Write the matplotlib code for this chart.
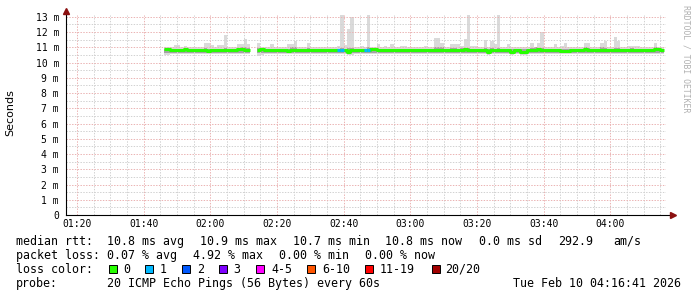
import numpy as np
import matplotlib
matplotlib.use("Agg")
import matplotlib.pyplot as plt
from matplotlib.patches import Rectangle

nan = np.nan

# one sample per minute, first sample 01:46, last 04:15 (minutes after 01:00)
minutes = np.arange(46, 196)

# median rtt in ms
median = [
    10.90, 10.90, 10.80, 10.80, 10.80, 10.80, 10.90, 10.80, 10.80, 10.80,
    10.80, 10.80, 10.80, 10.75, 10.80, 10.80, 10.80, 10.80, 10.80, 10.80,
    10.80, 10.80, 10.90, 10.90, 10.85, 10.80, nan, nan, 10.80, 10.90,
    10.80, 10.80, 10.80, 10.80, 10.80, 10.80, 10.80, 10.75, 10.80, 10.80,
    10.80, 10.80, 10.80, 10.80, 10.80, 10.80, 10.80, 10.80, 10.80, 10.80,
    10.80, 10.80, 10.80, 10.80, 10.80, 10.72, 10.80, 10.80, 10.80, 10.80,
    10.80, 10.80, 10.90, 10.90, 10.80, 10.80, 10.80, 10.80, 10.80, 10.80,
    10.82, 10.82, 10.82, 10.82, 10.82, 10.82, 10.82, 10.82, 10.82, 10.82,
    10.82, 10.82, 10.82, 10.82, 10.82, 10.82, 10.82, 10.82, 10.82, 10.82,
    10.90, 10.80, 10.80, 10.80, 10.80, 10.80, 10.80, 10.72, 10.80, 10.80,
    10.80, 10.80, 10.80, 10.80, 10.72, 10.80, 10.80, 10.72, 10.72, 10.80,
    10.80, 10.80, 10.90, 10.80, 10.80, 10.80, 10.80, 10.80, 10.80, 10.75,
    10.75, 10.75, 10.80, 10.80, 10.80, 10.80, 10.90, 10.80, 10.80, 10.80,
    10.80, 10.80, 10.80, 10.80, 10.80, 10.80, 10.80, 10.80, 10.80, 10.80,
    10.80, 10.80, 10.80, 10.80, 10.80, 10.80, 10.80, 10.90, 10.90, 10.80,
]

# slowest ping of each minute (top of the smoke)
ping_max = [
    11.05, 11.05, 11.05, 11.13, 11.13, 11.05, 11.10, 11.05, 11.05, 11.05,
    11.05, 11.05, 11.28, 11.28, 11.13, 11.05, 11.13, 11.13, 11.82, 11.05,
    11.05, 11.05, 11.20, 11.20, 11.52, 11.20, nan, nan, 11.28, 11.05,
    11.05, 11.05, 11.20, 11.05, 11.05, 11.05, 11.05, 11.20, 11.20, 11.39,
    11.05, 11.05, 11.05, 11.28, 11.05, 11.05, 11.05, 11.05, 11.05, 11.05,
    11.05, 11.05, 11.10, 13.13, 11.13, 12.17, 13.00, 11.05, 11.05, 11.10,
    11.05, 13.13, 11.05, 11.05, 11.20, 11.05, 11.10, 11.05, 11.20, 11.05,
    11.05, 11.10, 11.10, 11.05, 11.05, 11.05, 11.05, 11.05, 11.10, 11.05,
    11.05, 11.60, 11.60, 11.28, 11.05, 11.05, 11.20, 11.20, 11.20, 11.10,
    11.56, 13.13, 11.10, 11.10, 11.05, 11.05, 11.50, 11.05, 11.39, 11.20,
    13.10, 11.05, 11.05, 11.20, 11.05, 11.05, 11.05, 11.05, 11.05, 11.05,
    11.28, 11.05, 11.28, 12.00, 11.05, 11.05, 11.05, 11.20, 11.05, 11.10,
    11.28, 11.05, 11.05, 11.05, 11.05, 11.05, 11.28, 11.28, 11.05, 11.05,
    11.05, 11.28, 11.39, 11.05, 11.05, 11.67, 11.39, 11.05, 11.05, 11.10,
    11.10, 11.10, 11.10, 11.05, 11.05, 11.05, 11.05, 11.28, 11.05, 11.05,
]

# fastest ping of each minute (bottom of the smoke)
ping_min = [
    10.52, 10.52, 10.56, 10.56, 10.56, 10.56, 10.56, 10.56, 10.54, 10.56,
    10.56, 10.56, 10.54, 10.54, 10.56, 10.56, 10.56, 10.56, 10.56, 10.56,
    10.56, 10.56, 10.56, 10.56, 10.56, 10.56, nan, nan, 10.46, 10.52,
    10.56, 10.56, 10.56, 10.56, 10.56, 10.56, 10.54, 10.56, 10.56, 10.56,
    10.56, 10.56, 10.56, 10.56, 10.56, 10.56, 10.56, 10.56, 10.56, 10.56,
    10.56, 10.56, 10.56, 10.56, 10.56, 10.50, 10.50, 10.56, 10.56, 10.56,
    10.56, 10.56, 10.56, 10.56, 10.56, 10.56, 10.56, 10.56, 10.56, 10.56,
    10.56, 10.56, 10.56, 10.56, 10.56, 10.56, 10.56, 10.56, 10.56, 10.56,
    10.56, 10.56, 10.56, 10.56, 10.56, 10.56, 10.56, 10.56, 10.56, 10.56,
    10.56, 10.56, 10.56, 10.56, 10.56, 10.56, 10.56, 10.52, 10.56, 10.56,
    10.56, 10.56, 10.56, 10.56, 10.52, 10.56, 10.56, 10.50, 10.50, 10.56,
    10.56, 10.56, 10.56, 10.56, 10.56, 10.56, 10.56, 10.56, 10.56, 10.54,
    10.54, 10.54, 10.56, 10.56, 10.56, 10.56, 10.56, 10.56, 10.56, 10.56,
    10.56, 10.56, 10.56, 10.56, 10.56, 10.56, 10.56, 10.56, 10.56, 10.56,
    10.56, 10.56, 10.56, 10.56, 10.56, 10.56, 10.56, 10.56, 10.56, 10.56,
]

# darker core of the smoke (middle pings)
core_low = 10.62
core_high = [
    10.92, 10.92, 10.92, 10.92, 10.92, 10.92, 10.95, 10.92, 10.92, 10.92,
    10.92, 10.92, 10.95, 10.92, 10.92, 10.92, 10.92, 10.92, 10.95, 10.92,
    10.92, 10.92, 10.95, 11.02, 11.02, 10.95, nan, nan, 10.95, 10.95,
    10.92, 10.92, 10.92, 10.92, 10.92, 10.92, 10.92, 10.92, 11.02, 11.02,
    10.92, 10.92, 10.92, 10.95, 10.92, 10.92, 10.92, 10.92, 10.92, 10.92,
    10.92, 10.92, 10.92, 10.95, 10.92, 10.95, 10.95, 10.92, 10.92, 10.92,
    10.92, 11.00, 10.95, 10.92, 10.92, 10.92, 10.92, 10.92, 10.92, 10.92,
    10.92, 10.92, 10.92, 10.92, 10.92, 10.92, 10.92, 10.92, 10.92, 10.92,
    10.92, 11.05, 11.05, 11.00, 10.92, 10.92, 10.95, 10.95, 10.92, 10.95,
    10.95, 10.95, 10.92, 10.92, 10.92, 10.92, 10.95, 10.92, 10.95, 10.92,
    10.95, 10.92, 10.92, 10.92, 10.92, 10.92, 10.92, 10.92, 10.92, 10.92,
    10.95, 11.00, 10.95, 10.95, 10.92, 10.92, 10.92, 10.92, 10.92, 10.92,
    10.92, 10.92, 10.92, 10.92, 10.92, 10.92, 11.00, 10.95, 10.92, 10.92,
    10.92, 11.00, 10.95, 10.92, 10.92, 10.95, 10.95, 10.92, 10.92, 10.92,
    10.95, 10.92, 10.92, 10.92, 10.92, 10.92, 10.92, 11.00, 10.95, 10.92,
]

# lost pings out of 20 per minute (only non-zero minutes listed)
loss_minutes = [98, 99, 106, 107]
loss_counts = [1, 1, 1, 1]

loss_labels = ["0", "1", "2", "3", "4-5", "6-10", "11-19", "20/20"]
loss_colors = ["#26ff00", "#00b8ff", "#0059ff", "#7e00ff",
               "#ff00ff", "#ff5500", "#ff0000", "#a10000"]

x_ticks = [20, 40, 60, 80, 100, 120, 140, 160, 180]
x_tick_labels = ["01:20", "01:40", "02:00", "02:20", "02:40",
                 "03:00", "03:20", "03:40", "04:00"]
t_start = 16 + 41 / 60   # 01:16:41
t_end = t_start + 180    # 04:16:41

legend_rows = [
    ["median rtt:", "10.8 ms avg", "10.9 ms max", "10.7 ms min",
     "10.8 ms now", "0.0 ms sd", "292.9", "am/s"],
    ["packet loss:", "0.07 % avg", "4.92 % max", "0.00 % min", "0.00 % now"],
]
probe_text = "20 ICMP Echo Pings (56 Bytes) every 60s"
stamp_text = "Tue Feb 10 04:16:41 2026"

W, H = 697, 297
MONO = "DejaVu Sans Mono"


def stepify(values):
    v = np.asarray(values, dtype=float)
    xs = np.column_stack([minutes, minutes + 1]).ravel()
    return xs, np.repeat(v, 2)


fig = plt.figure(figsize=(W / 100, H / 100), dpi=100)
fig.patch.set_facecolor("white")
ax = fig.add_axes([66 / W, 82 / H, 600 / W, 200 / H])
ax.set_xlim(t_start, t_end)
ax.set_ylim(0, 13.12)
for s in ax.spines.values():
    s.set_visible(False)

# smoke
xs, hi = stepify(ping_max)
_, lo = stepify(ping_min)
_, ch = stepify(core_high)
ax.fill_between(xs, lo, hi, color="#dadada", lw=0, zorder=1)
ax.fill_between(xs, np.full_like(ch, core_low), ch,
                where=~np.isnan(ch), color="#a4a4a4", lw=0, zorder=1.2)

# median line, green = no loss
_, med = stepify(median)
ax.plot(xs, med, color=loss_colors[0], lw=2.2, solid_capstyle="butt", zorder=3)
med_arr = np.asarray(median)
for m, c in zip(loss_minutes, loss_counts):
    k = m - minutes[0]
    ax.plot([m, m + 1], [med_arr[k]] * 2, color=loss_colors[c], lw=2.2,
            solid_capstyle="butt", zorder=3.2)

# grid
ax.set_xticks(x_ticks)
ax.set_xticklabels(x_tick_labels, fontsize=7, family=MONO)
ax.set_xticks(np.arange(20, 197, 5), minor=True)
ax.set_yticks(range(14))
ax.set_yticklabels(["0"] + [f"{v} m" for v in range(1, 14)],
                   fontsize=7, family=MONO)
ax.set_yticks(np.arange(0.5, 13.1, 1.0), minor=True)
ax.tick_params(which="both", length=0)
ax.tick_params(axis="x", pad=3)
ax.tick_params(axis="y", pad=5)
ax.grid(which="minor", color="#d2d2d2", lw=0.72, ls=(0, (1.4, 1.4)), zorder=2)
ax.grid(which="major", color="#ebb4b4", lw=0.72, ls=(0, (1.4, 1.4)), zorder=2)
ax.set_axisbelow(False)

# axes with arrows
ax.plot([0, 1.012], [0, 0], transform=ax.transAxes, color="black",
        lw=0.8, clip_on=False, zorder=4)
ax.plot([0, 0], [0, 1.02], transform=ax.transAxes, color="black",
        lw=0.8, clip_on=False, zorder=4)
ax.plot([1.012], [0], transform=ax.transAxes, marker=">", ms=4,
        color="#8b1010", clip_on=False, zorder=5)
ax.plot([0], [1.022], transform=ax.transAxes, marker="^", ms=4,
        color="#8b1010", clip_on=False, zorder=5)

fig.text(10 / W, 1 - 113 / H, "Seconds", rotation=90, ha="center",
         va="center", fontsize=8, family="DejaVu Sans")
fig.text(686 / W, 1 - 5 / H, "RRDTOOL / TOBI OETIKER", rotation=-90,
         ha="center", va="top", fontsize=5.9, family=MONO, color="#b0b0b0")

# legend block
font = dict(fontsize=8.4, family=MONO, va="baseline")
row_x = [
    [16, 107, 200, 293, 385, 479, 558, 613],
    [16, 107, 193, 279, 365],
]
row_base = [245, 259]
for labels, xs_row, yb in zip(legend_rows, row_x, row_base):
    for lab, xp in zip(labels, xs_row):
        fig.text(xp / W, 1 - yb / H, lab, **font)

fig.text(16 / W, 1 - 273 / H, "loss color:", **font)
box_x = [108.5, 145, 182, 218.5, 255.5, 307, 365, 432]
lab_x = [123, 160, 197, 233, 271, 322, 380, 445]
for lab, col, bx, lx in zip(loss_labels, loss_colors, box_x, lab_x):
    fig.patches.append(Rectangle((bx / W, 1 - 273 / H), 8 / W, 8 / H,
                                 transform=fig.transFigure, facecolor=col,
                                 edgecolor="black", lw=0.7))
    fig.text(lx / W, 1 - 273 / H, lab, **font)

fig.text(16 / W, 1 - 287 / H, "probe:", **font)
fig.text(107 / W, 1 - 287 / H, probe_text, **font)
fig.text(681 / W, 1 - 287 / H, stamp_text, ha="right",
         fontsize=8.4, family=MONO, va="baseline")

fig.savefig("out.png", dpi=100, facecolor="white")
